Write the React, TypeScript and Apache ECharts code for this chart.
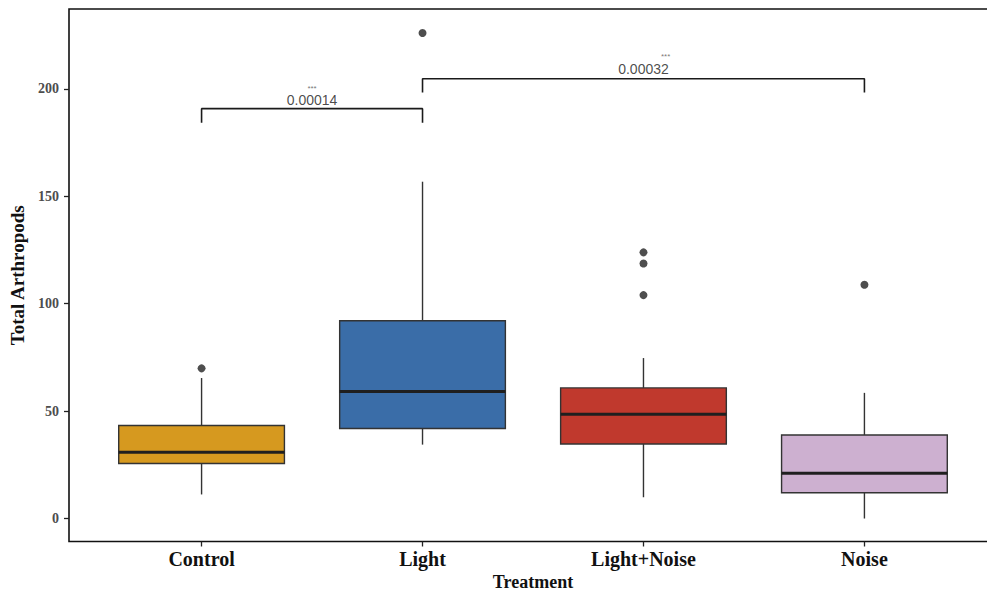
import React, { useEffect, useRef } from "react";
import * as echarts from "echarts";

// Categories (treatments)
const categories = ["Control", "Light", "Light+Noise", "Noise"];
// Box statistics per treatment: [lower whisker, Q1, median, Q3, upper whisker]
const controlStats = [11.2, 25.6, 30.8, 43.3, 65.4];
const lightStats = [34.4, 41.9, 59.1, 92.1, 156.8];
const lightNoiseStats = [9.9, 34.7, 48.5, 60.8, 74.7];
const noiseStats = [0, 12.0, 21.1, 38.9, 58.5];
// Outliers: [treatment index (1-based), value]
const outliers = [
  [1, 69.9],
  [2, 226],
  [3, 123.9],
  [3, 118.7],
  [3, 104],
  [4, 108.8],
];
// Pairwise comparisons (significance brackets)
const comparisons = [
  { from: 1, to: 2, top: 190.8, tip: 184.3, p: "0.00014", stars: "***", pY: 194.9, starX: 1.5, starY: 200.1 },
  { from: 2, to: 4, top: 204.7, tip: 198.3, p: "0.00032", stars: "***", pY: 209.2, starX: 3.1, starY: 215.3 },
];
const yTicks = [0, 50, 100, 150, 200];
const fillColors = ["#D6991F", "#3A6DA8", "#C0392D", "#CDB0D0"];

export default function App() {
  const ref = useRef<HTMLDivElement>(null);
  useEffect(() => {
    document.body.style.margin = "0";
    const chart = echarts.init(ref.current!, null, { renderer: "svg" });
    const boxData = [controlStats, lightStats, lightNoiseStats, noiseStats].map((s, i) => [i + 1, ...s]);
    const bracketSeries = comparisons.map((c) => ({
      type: "line",
      data: [
        [c.from, c.tip],
        [c.from, c.top],
        [c.to, c.top],
        [c.to, c.tip],
      ],
      symbol: "none",
      lineStyle: { color: "#1a1a1a", width: 1.6 },
      silent: true,
      z: 5,
    }));
    const textItem = (x: number, y: number, text: string, size: number, color: string) => ({
      value: [x, y],
      label: {
        show: true,
        position: "inside",
        formatter: text,
        fontFamily: "Liberation Sans",
        fontSize: size,
        color,
      },
    });
    const labelData: any[] = [];
    comparisons.forEach((c) => {
      labelData.push(textItem((c.from + c.to) / 2, c.pY, c.p, 14, "#1a1a1a"));
      labelData.push(textItem(c.starX, c.starY, c.stars, 8, "#555"));
    });
    const serif = "Liberation Serif";
    chart.setOption({
      animation: false,
      backgroundColor: "#ffffff",
      grid: {
        left: 69,
        top: 9,
        right: -10,
        bottom: 49.5,
        show: true,
        borderColor: "#111",
        borderWidth: 1.6,
        backgroundColor: "transparent",
        outerBoundsMode: "none",
        containLabel: false,
      },
      xAxis: {
        type: "value",
        min: 0.4,
        max: 4.6,
        name: "Treatment",
        nameLocation: "middle",
        nameGap: 26,
        nameTextStyle: { fontFamily: serif, fontWeight: "bold", fontSize: 18, lineHeight: 18, color: "#111" },
        axisLine: { show: false, onZero: false },
        splitLine: { show: false },
        axisTick: { show: true, customValues: [1, 2, 3, 4], length: 5, lineStyle: { color: "#222", width: 1.3 } },
        axisLabel: {
          customValues: [1, 2, 3, 4],
          formatter: (v: number) => categories[Math.round(v) - 1] ?? "",
          fontFamily: serif,
          fontWeight: "bold",
          fontSize: 20,
          color: "#111",
          margin: 7,
        },
      },
      yAxis: {
        type: "value",
        min: -10.7,
        max: 237.2,
        name: "Total Arthropods",
        nameLocation: "middle",
        nameGap: 34,
        nameTextStyle: { fontFamily: serif, fontWeight: "bold", fontSize: 19, color: "#111" },
        axisLine: { show: false, onZero: false },
        splitLine: { show: false },
        axisTick: { show: true, customValues: yTicks, length: 5, lineStyle: { color: "#222", width: 1.3 } },
        axisLabel: {
          customValues: yTicks,
          fontFamily: serif,
          fontWeight: "bold",
          fontSize: 14,
          color: "#4d4d4d",
          margin: 10,
        },
      },
      series: [
        {
          type: "custom",
          data: boxData,
          z: 2,
          renderItem: (params: any, api: any) => {
            const x = api.value(0);
            const lo = api.value(1), q1 = api.value(2), med = api.value(3), q3 = api.value(4), hi = api.value(5);
            const c = api.coord([x, med]);
            const tl = api.coord([x - 0.375, q3]);
            const br = api.coord([x + 0.375, q1]);
            const yHi = api.coord([x, hi])[1];
            const yLo = api.coord([x, lo])[1];
            const stroke = "#333";
            return {
              type: "group",
              children: [
                { type: "line", shape: { x1: c[0], y1: yHi, x2: c[0], y2: tl[1] }, style: { stroke, lineWidth: 1.4 } },
                { type: "line", shape: { x1: c[0], y1: br[1], x2: c[0], y2: yLo }, style: { stroke, lineWidth: 1.4 } },
                {
                  type: "rect",
                  shape: { x: tl[0], y: tl[1], width: br[0] - tl[0], height: br[1] - tl[1] },
                  style: { fill: fillColors[params.dataIndex], stroke, lineWidth: 1.4 },
                },
                { type: "line", shape: { x1: tl[0], y1: c[1], x2: br[0], y2: c[1] }, style: { stroke: "#1f1f1f", lineWidth: 3 } },
              ],
            };
          },
        },
        {
          type: "scatter",
          data: outliers,
          symbolSize: 8,
          itemStyle: { color: "#222" },
          z: 3,
        },
        ...bracketSeries,
        {
          type: "scatter",
          data: labelData,
          symbolSize: 0,
          silent: true,
          z: 6,
        },
      ],
    });
    return () => chart.dispose();
  }, []);
  return <div ref={ref} style={{ width: 987, height: 591 }} />;
}
